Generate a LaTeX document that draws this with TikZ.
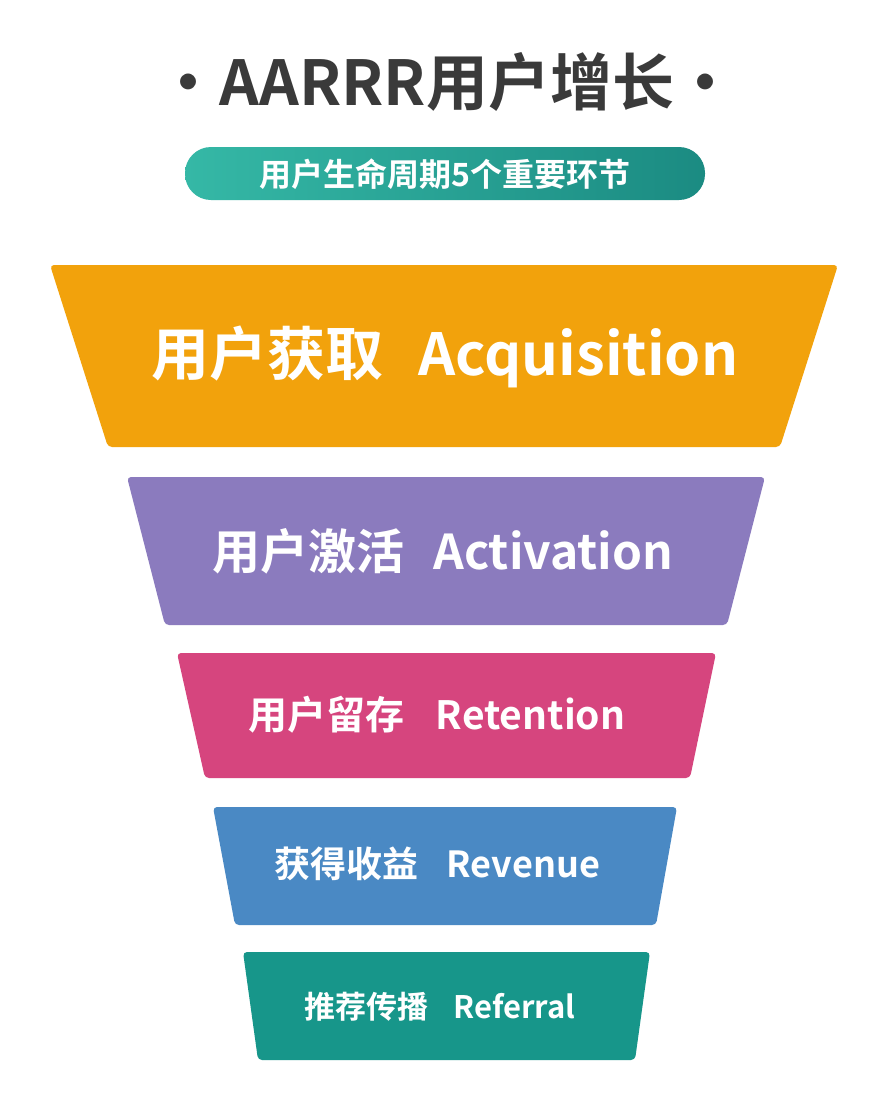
\documentclass[tikz,border=0pt]{standalone}
\usepackage{fontspec}
\newfontfamily\cjk{Noto Sans CJK SC}[BoldFont={* Bold}]
\usetikzlibrary{positioning}
\definecolor{acqui}{HTML}{F2A20C}
\definecolor{activ}{HTML}{8B7BBE}
\definecolor{reten}{HTML}{D6457E}
\definecolor{reven}{HTML}{4A89C4}
\definecolor{refer}{HTML}{17968A}
\definecolor{titlegray}{HTML}{3A3A3A}
\definecolor{pilla}{HTML}{35B8A6}
\definecolor{pillb}{HTML}{1B8B82}
\tikzset{
  funneltext/.style={text=white, inner sep=0pt},
  funnel/.style={rounded corners=4pt}
}
\begin{document}
\begin{tikzpicture}[x=1pt,y=-1pt]
      \useasboundingbox[fill=white] (0,0) rectangle (894,1100);
      % title
      \node[text=titlegray, font=\cjk\bfseries\fontsize{62}{70}\selectfont] (title) at (447,82) {·AARRR用户增长·};
      \shade[left color=pilla, right color=pillb, rounded corners=26pt] (185,147) rectangle (705,200);
      \node[text=white, font=\cjk\bfseries\fontsize{32}{36}\selectfont] (sub) at (445,174) {用户生命周期5个重要环节};
      % funnel stages
      \fill[acqui, funnel] (50,265) -- (838,265) -- (780,447) -- (108,447) -- cycle;
      \fill[activ, funnel] (127,477) -- (765,477) -- (727,625) -- (165,625) -- cycle;
      \fill[reten, funnel] (177,653) -- (716,653) -- (690,778) -- (205,778) -- cycle;
      \fill[reven, funnel] (213,807) -- (677,807) -- (656,925) -- (235,925) -- cycle;
      \fill[refer, funnel] (243,952) -- (650,952) -- (635,1060) -- (258,1060) -- cycle;
      \node[funneltext, font=\cjk\bfseries\fontsize{58}{64}\selectfont] (acq) at (445,357) {用户获取\hspace{0.6em}Acquisition};
      \node[funneltext, font=\cjk\bfseries\fontsize{48}{54}\selectfont] (act) at (443,551) {用户激活\hspace{0.6em}Activation};
      \node[funneltext, font=\cjk\bfseries\fontsize{39}{44}\selectfont] (ret) at (437,715) {用户留存\hspace{0.8em}Retention};
      \node[funneltext, font=\cjk\bfseries\fontsize{36}{40}\selectfont] (rev) at (437,864) {获得收益\hspace{0.8em}Revenue};
      \node[funneltext, font=\cjk\bfseries\fontsize{31}{36}\selectfont] (ref) at (440,1007) {推荐传播\hspace{0.8em}Referral};
\end{tikzpicture}
\end{document}
